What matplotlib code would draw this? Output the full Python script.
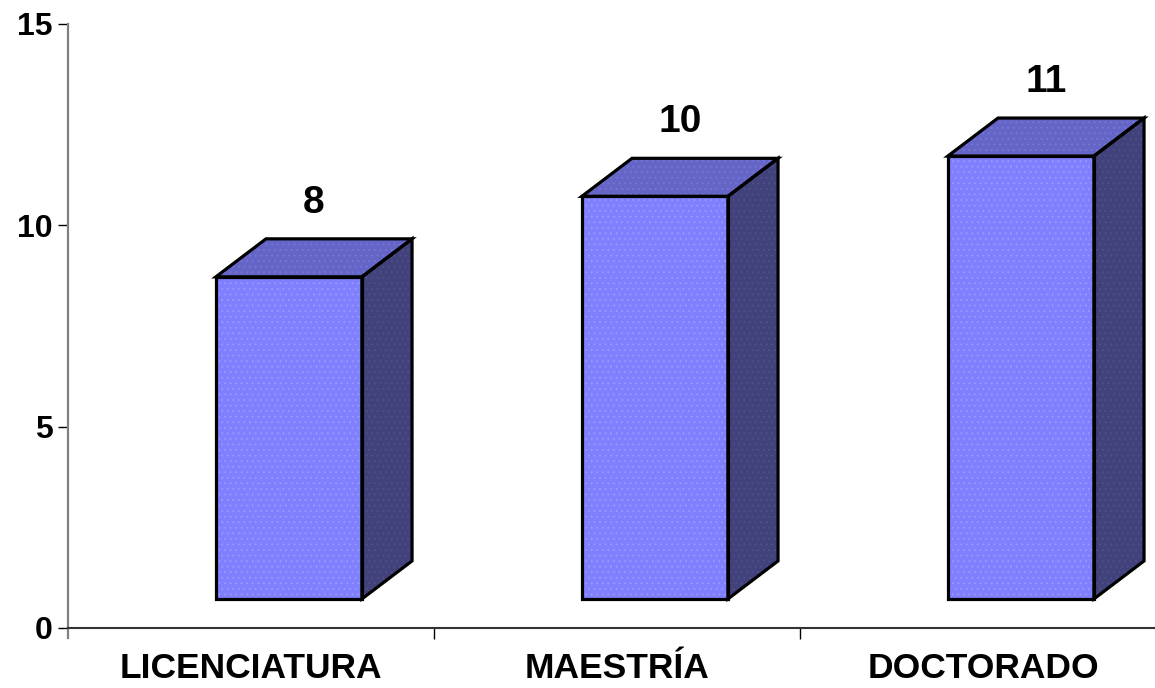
import matplotlib.pyplot as plt
from matplotlib.patches import Polygon

categories = ['LICENCIATURA', 'MAESTRÍA', 'DOCTORADO']
values = [8, 10, 11]
y_ticks = [0, 5, 10, 15]

# box geometry, in category / value units
front_x = 0.404
front_w = 0.399
depth_x = 0.137
depth_y = 0.944
floor = 0.72

front_col = '#8080ff'
top_col = '#6565c8'
side_col = '#41417c'

plt.rcParams['font.family'] = ['Liberation Sans', 'DejaVu Sans']
plt.rcParams['font.weight'] = 'bold'
plt.rcParams['hatch.linewidth'] = 0.6

fig = plt.figure(figsize=(11.55, 6.88), dpi=100)
ax = fig.add_axes([68 / 1155, 50 / 688, 1098 / 1155, 614 / 688])

def box(ax, i, v):
    x0 = i + front_x
    x1 = x0 + front_w
    y0 = floor
    y1 = floor + v
    front = [(x0, y0), (x1, y0), (x1, y1), (x0, y1)]
    top = [(x0, y1), (x1, y1), (x1 + depth_x, y1 + depth_y), (x0 + depth_x, y1 + depth_y)]
    side = [(x1, y0), (x1 + depth_x, y0 + depth_y), (x1 + depth_x, y1 + depth_y), (x1, y1)]
    for pts, col, dots in [(front, front_col, '#9a9aff'), (top, top_col, '#7878d4'), (side, side_col, '#50508a')]:
        ax.add_patch(Polygon(pts, closed=True, facecolor=col, edgecolor='none', zorder=3))
        ax.add_patch(Polygon(pts, closed=True, facecolor='none', edgecolor=dots, lw=0, hatch='...', zorder=3))
        ax.add_patch(Polygon(pts, closed=True, facecolor='none', edgecolor='black', lw=2.3,
                             joinstyle='miter', zorder=4))
    ax.text(x0 + (front_w + depth_x) / 2, y1 + depth_y + 0.9, str(v),
            ha='center', va='center', fontsize=28, fontweight='bold')

for i, v in enumerate(values):
    box(ax, i, v)

ax.set_xlim(0, 3)
ax.set_ylim(-0.25, 15)

ax.spines['top'].set_visible(False)
ax.spines['right'].set_visible(False)
ax.spines['bottom'].set_position(('data', 0))
ax.spines['bottom'].set_color('#333333')
ax.spines['bottom'].set_linewidth(1.5)
ax.spines['left'].set_color('#808080')
ax.spines['left'].set_linewidth(1.6)

ax.set_yticks(y_ticks)
ax.set_yticklabels([str(t) for t in y_ticks])
ax.tick_params(axis='y', length=7.2, width=1.0, pad=4, labelsize=23, colors='black')

ax.set_xticks([0.5, 1.5, 2.5])
ax.set_xticklabels(categories)
ax.set_xticks([1, 2], minor=True)
ax.tick_params(axis='x', which='major', length=0, pad=17, labelsize=25.5)
ax.tick_params(axis='x', which='minor', length=8, width=1.0, color='black')

for lab in ax.get_xticklabels() + ax.get_yticklabels():
    lab.set_fontweight('bold')

fig.savefig('out.png', dpi=100)
